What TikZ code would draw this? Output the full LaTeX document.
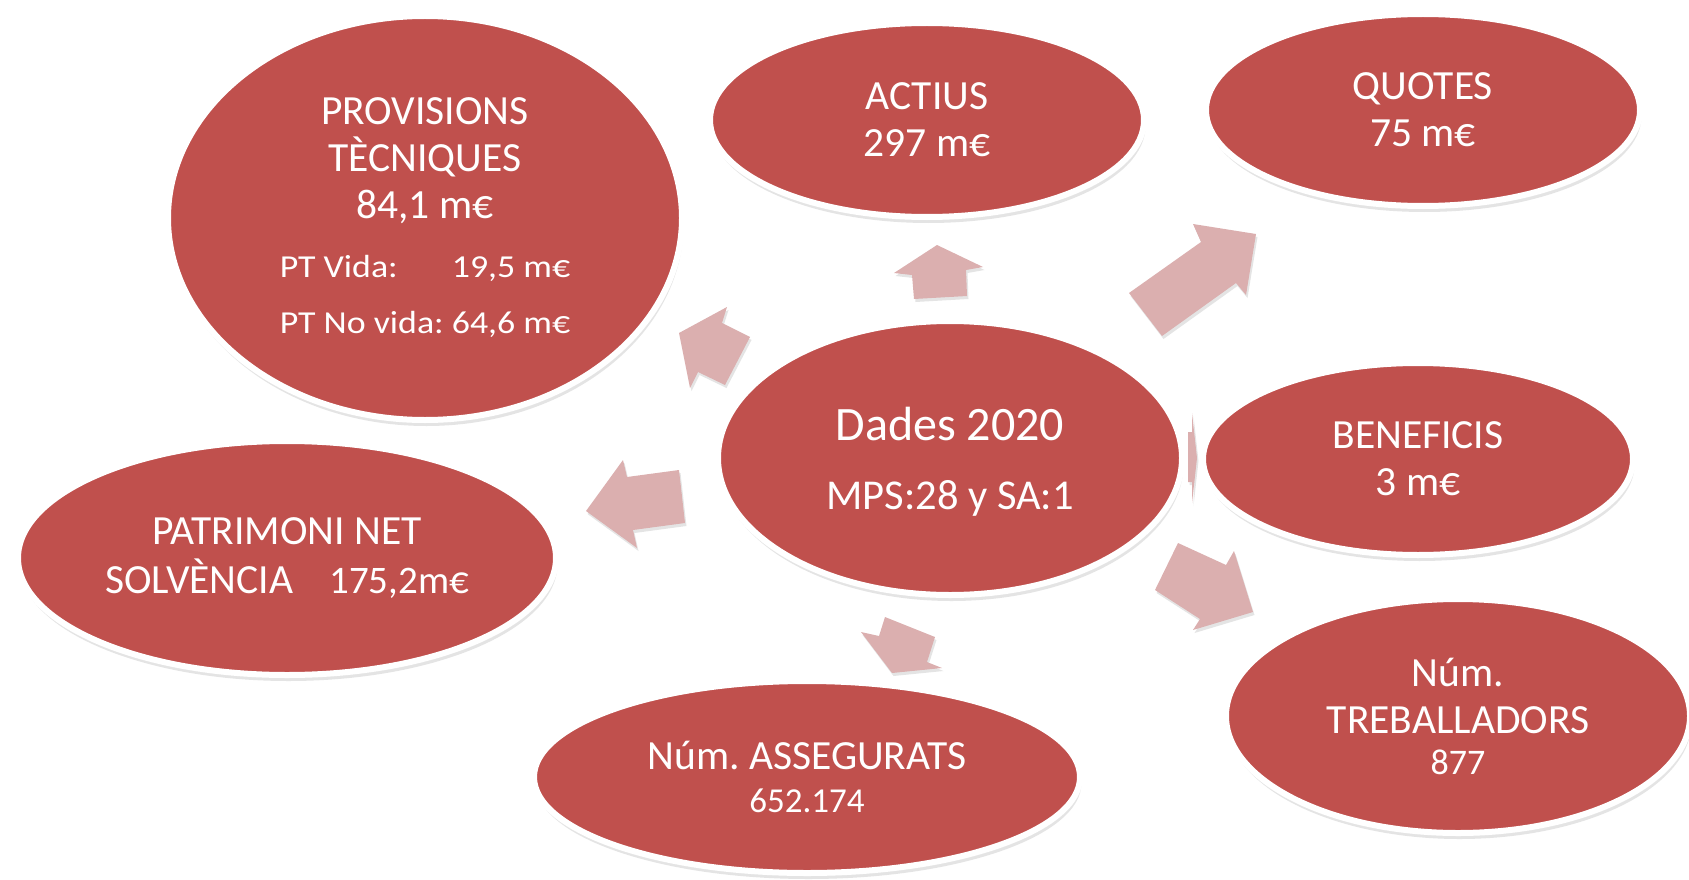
\documentclass[tikz,border=0pt]{standalone}
\usepackage{fontspec}
\setmainfont{Carlito}
\newfontfamily\ptfont[FakeStretch=1.12]{Carlito}
\usetikzlibrary{shapes.geometric,shadows}
\definecolor{bubblered}{HTML}{C0504D}
\definecolor{arrowpink}{HTML}{DBAFAF}
\tikzset{
  bubble/.style={ellipse, fill=bubblered, draw=white, line width=6pt,
    inner sep=0pt, text=white, align=center,
    font=\frenchspacing\fontsize{41.5}{47}\selectfont,
    drop shadow={shadow xshift=1.5pt, shadow yshift=-6pt, opacity=0.15, fill=black!70}},
  blockarrow/.style={fill=arrowpink,
    drop shadow={shadow xshift=1.5pt, shadow yshift=-3pt, opacity=0.15, fill=black!70}}
}
\newcommand{\ptsize}{\ptfont\fontsize{32}{38}\selectfont}
\begin{document}
\frenchspacing
\begin{tikzpicture}[x=1pt,y=-1pt]
\useasboundingbox (0,0) rectangle (1689,880);
% block arrows (drawn beneath the bubbles)
\fill[blockarrow] (937,245) -- (983,267) -- (966,270) -- (967,296) -- (914,299) -- (912,275) -- (894,273) -- cycle;
\fill[blockarrow] (1256,234) -- (1246,295) -- (1236,283) -- (1162,336) -- (1129,293) -- (1201,242) -- (1193,224) -- cycle;
\fill[blockarrow] (679,333) -- (727,307) -- (722,323) -- (750,337) -- (725,385) -- (698,372) -- (690,388) -- cycle;
\fill[blockarrow] (586,511) -- (623,460) -- (627,477) -- (679,470) -- (685,523) -- (633,530) -- (637,548) -- cycle;
\fill[blockarrow] (892,673) -- (942,668) -- (927,662) -- (935,637) -- (885,617) -- (879,636) -- (861,632) -- cycle;
\fill[blockarrow] (1253,612) -- (1193,630) -- (1200,619) -- (1155,590) -- (1178,543) -- (1226,565) -- (1234,551) -- cycle;
\fill[blockarrow] (1188,432) -- (1192,432) -- (1192,413) -- (1197,458) -- (1192,503) -- (1192,482) -- (1188,482) -- cycle;
% bubbles
\node[bubble, minimum width=514pt, minimum height=404pt] (prov) at (425,218)
  {PROVISIONS\\TÈCNIQUES\\84,1 m€\\[12pt]{\ptsize\rlap{PT Vida:}\phantom{PT No vida: }19,5 m€}\\[9pt]{\ptsize PT No vida: 64,6 m€}};
\node[bubble, minimum width=434pt, minimum height=194pt] (act) at (927,120) {ACTIUS\\297 m€};
\node[bubble, minimum width=434pt, minimum height=192pt] (quo) at (1423,110) {QUOTES\\75 m€};
\node[bubble, minimum width=464pt, minimum height=274pt, text depth=0pt] (dad) at (950,458)
  {{\fontsize{48}{48}\selectfont Dades 2020}\\[22pt]{\fontsize{42.5}{48}\selectfont MPS:28 y SA:1}};
\node[bubble, minimum width=430pt, minimum height=192pt] (ben) at (1418,459) {BENEFICIS\\3 m€};
\node[bubble, minimum width=538pt, minimum height=234pt] (pat) at (287,558)
  {PATRIMONI NET\\[2pt]SOLVÈNCIA\hspace{36pt}{\fontsize{39}{47}\selectfont 175,2m€}};
\node[bubble, minimum width=546pt, minimum height=192pt] (ase) at (807,777)
  {Núm. ASSEGURATS\\[-4pt]{\fontsize{35}{40}\selectfont 652.174}};
\node[bubble, minimum width=464pt, minimum height=234pt] (tre) at (1458,716)
  {Núm.\\TREBALLADORS\\[-6pt]{\fontsize{36}{40}\selectfont 877}};
\end{tikzpicture}
\end{document}
